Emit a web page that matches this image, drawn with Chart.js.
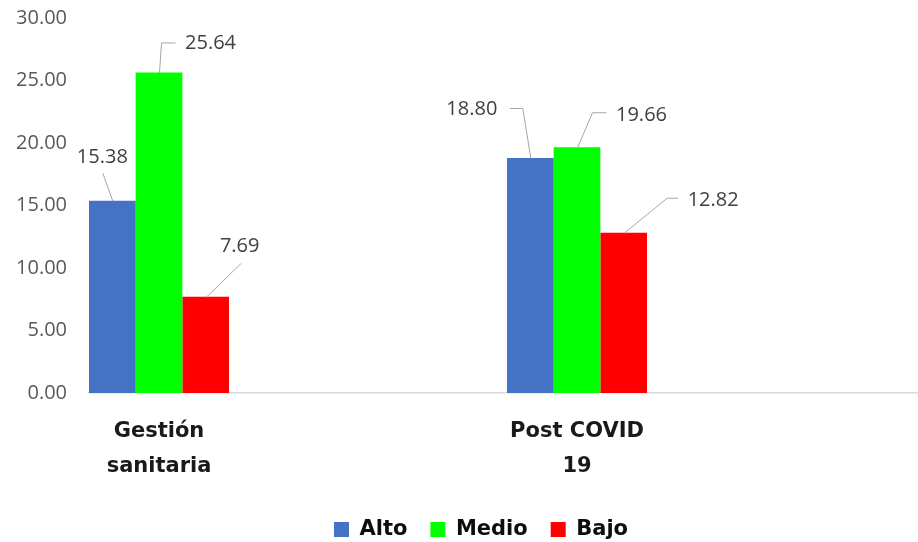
<!DOCTYPE html>
<html>
<head>
<meta charset="utf-8">
<script src="https://cdn.jsdelivr.net/npm/chart.js@4.4.1/dist/chart.umd.min.js"></script>
<style>
html,body{margin:0;padding:0;background:#fff;}
#wrap{width:918px;height:542px;position:relative;}
</style>
</head>
<body>
<div id="wrap"><canvas id="c" width="918" height="542"></canvas></div>
<script>
// ---- data ----
const categories = [["Gestión", "sanitaria"], ["Post COVID", "19"]];
const seriesNames = ["Alto", "Medio", "Bajo"];
const alto = [15.38, 18.80];
const medio = [25.64, 19.66];
const bajo = [7.69, 12.82];
const yTickValues = [0, 5, 10, 15, 20, 25, 30];

// ---- style ----
const colors = ["#4472C4", "#00FF00", "#FF0000"];
const numFont = { family: "'Open Sans', sans-serif", size: 20 };
const boldFont = { family: "'DejaVu Sans', sans-serif", size: 21, weight: "bold" };

// leader line + label placement (pixel offsets from bar top centre), per dataset then category
const labelLayout = [
  [ { pts: [[0,0],[-10,-28]], text: [-10,-43], align: "center" },
    { pts: [[0,0],[-8,-50],[-21,-50]], text: [-33,-49], align: "right" } ],
  [ { pts: [[0,0],[2,-30],[16,-30]], text: [26,-29], align: "left" },
    { pts: [[0,0],[15,-35],[29,-35]], text: [39,-32], align: "left" } ],
  [ { pts: [[0,0],[35,-34]], text: [34,-51], align: "center" },
    { pts: [[0,0],[43,-35],[54,-35]], text: [64,-32], align: "left" } ]
];

const leaderLabels = {
  id: "leaderLabels",
  afterDatasetsDraw(chart) {
    const ctx = chart.ctx;
    ctx.save();
    chart.data.datasets.forEach((ds, di) => {
      const meta = chart.getDatasetMeta(di);
      meta.data.forEach((bar, j) => {
        const L = labelLayout[di][j];
        const x0 = bar.x, y0 = bar.y;
        ctx.beginPath();
        L.pts.forEach((p, k) => {
          const px = x0 + p[0] + 0.5, py = y0 + p[1] + 0.5;
          if (k === 0) ctx.moveTo(px, py); else ctx.lineTo(px, py);
        });
        ctx.strokeStyle = "#A6A6A6";
        ctx.lineWidth = 1;
        ctx.stroke();
        ctx.fillStyle = "#404040";
        ctx.font = numFont.size + "px " + numFont.family;
        ctx.textAlign = L.align;
        ctx.textBaseline = "middle";
        ctx.fillText(ds.data[j].y.toFixed(2), x0 + L.text[0], y0 + L.text[1]);
      });
    });
    ctx.restore();
  }
};

const shiftLegend = {
  id: "shiftLegend",
  afterLayout(chart) {
    const lg = chart.legend;
    if (lg) {
      lg.left += 22; lg.right += 22;
      lg.top += 12; lg.bottom += 12;
    }
  }
};

const seriesValues = [alto, medio, bajo];
const datasets = seriesNames.map((name, si) => ({
  label: name,
  data: categories.map((c, i) => ({ x: i, y: seriesValues[si][i] })),
  backgroundColor: colors[si],
  borderWidth: 0,
  categoryPercentage: 0.335,
  barPercentage: 1.0
}));

new Chart(document.getElementById("c"), {
  type: "bar",
  data: { datasets },
  plugins: [leaderLabels, shiftLegend],
  options: {
    responsive: false,
    animation: false,
    layout: { padding: { top: 18, right: 0, left: 0, bottom: 4 } },
    plugins: {
      tooltip: { enabled: false },
      legend: {
        position: "bottom",
        labels: {
          boxWidth: 15, boxHeight: 15, padding: 23,
          color: "#0D0D0D",
          font: boldFont
        }
      }
    },
    scales: {
      x: {
        type: "linear",
        offset: false,
        min: -0.1675,
        max: 1.8158,
        grid: { display: false, drawTicks: false },
        border: { display: true, color: "#D9D9D9", width: 1.5 },
        afterBuildTicks(scale) { scale.ticks = categories.map((c, i) => ({ value: i })); },
        afterFit(scale) { scale.height -= 21; scale.paddingLeft = 0; scale.paddingRight = 0; },
        ticks: {
          autoSkip: false, maxRotation: 0, minRotation: 0,
          padding: 21,
          color: "#1A1A1A",
          font: { family: boldFont.family, size: 21, weight: "bold", lineHeight: 1.667 },
          callback: (v) => categories[v]
        }
      },
      y: {
        min: 0, max: 30,
        afterBuildTicks(scale) { scale.ticks = yTickValues.map(v => ({ value: v })); },
        afterFit(scale) { scale.width = 89; scale.paddingTop = 0; scale.paddingBottom = 0; },
        grid: { display: false, drawTicks: false },
        border: { display: false },
        ticks: {
          padding: 22,
          color: "#595959",
          font: numFont,
          callback: (v) => Number(v).toFixed(2)
        }
      }
    }
  }
});
</script>
</body>
</html>
